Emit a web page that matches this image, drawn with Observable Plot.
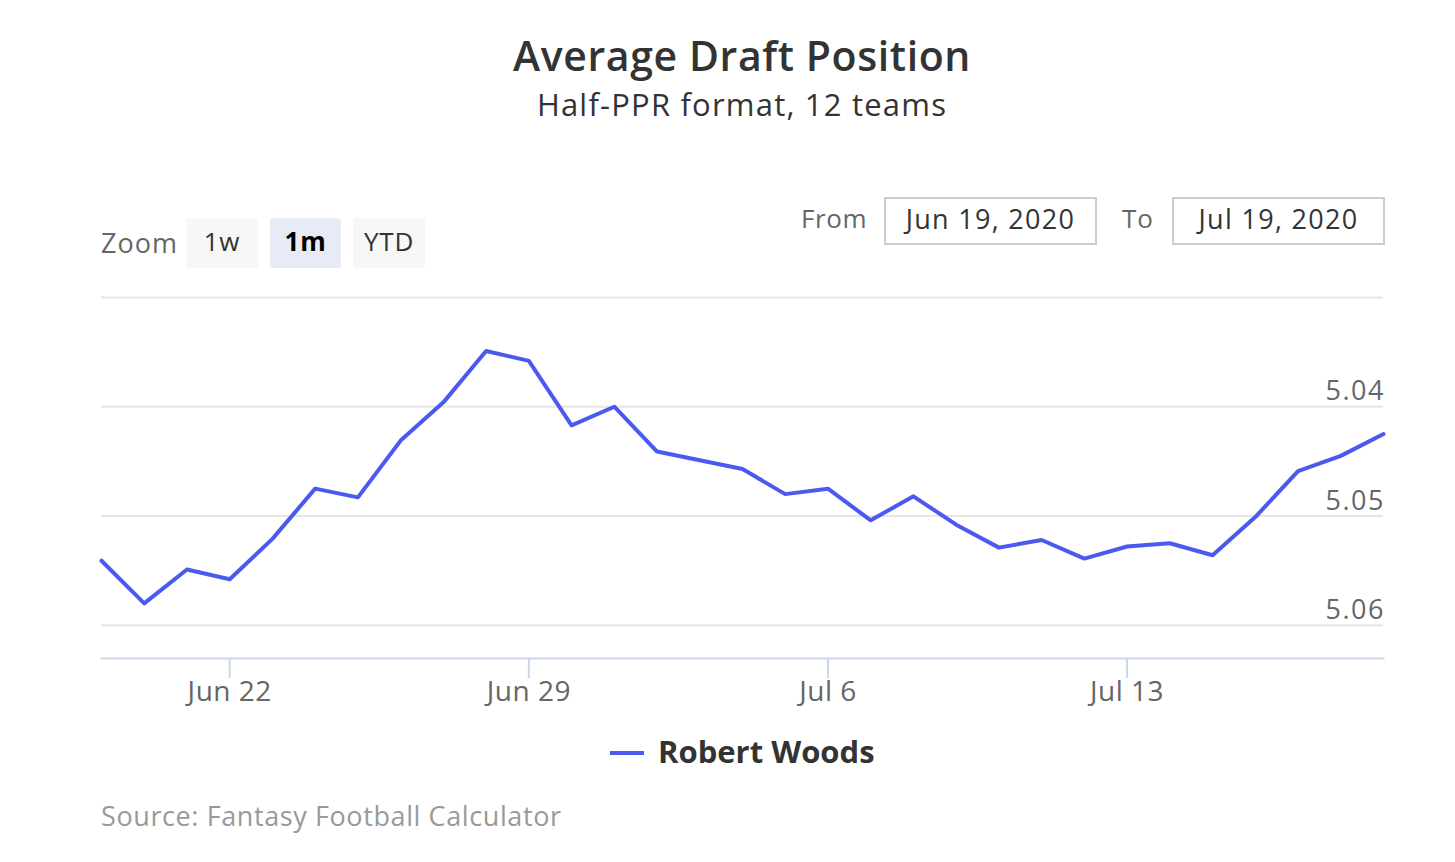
<!DOCTYPE html>
<html>
<head>
<meta charset="utf-8">
<script src="https://cdn.jsdelivr.net/npm/d3@7"></script>
<script src="https://cdn.jsdelivr.net/npm/@observablehq/plot@0.6"></script>
<style>
  html, body { margin: 0; padding: 0; background: #fff; }
  body { width: 1455px; height: 862px; position: relative; overflow: hidden; font-family: "Open Sans", sans-serif; }
  .abs { position: absolute; white-space: nowrap; line-height: 1; }
  .btn { position: absolute; height: 50px; border-radius: 3px; background: #f7f7f7; color: #333; font-size: 26px; letter-spacing: 0.8px; display: flex; align-items: center; justify-content: center; box-sizing: border-box; padding-bottom: 4px; }
  .inp { position: absolute; height: 44px; border: 2px solid #cccccc; color: #333; font-size: 27px; letter-spacing: 1.3px; display: flex; align-items: center; justify-content: center; box-sizing: content-box; padding-bottom: 0; }
  .inp span { position: relative; top: -3px; }
  #chart { position: absolute; left: 0; top: 280px; }
  #chart svg g[aria-label="x-axis tick label"] text { letter-spacing: 0.5px; }
  #chart svg g[aria-label="text"] text { letter-spacing: 1.5px; }
</style>
</head>
<body>
<div class="abs" id="title" style="left:0;width:1484px;text-align:center;top:35px;font-size:41px;font-weight:600;letter-spacing:0.6px;color:#333;">Average Draft Position</div>
<div class="abs" id="subtitle" style="left:0;width:1484px;text-align:center;top:89px;font-size:31px;letter-spacing:1.2px;color:#333;">Half-PPR format, 12 teams</div>

<div class="abs" style="left:101px;top:229px;font-size:27px;letter-spacing:1px;color:#666;">Zoom</div>
<div class="btn" style="left:186px;top:218px;width:72px;">1w</div>
<div class="btn" style="left:270px;top:218px;width:71px;background:#e6ebf5;color:#000;font-weight:700;">1m</div>
<div class="btn" style="left:353px;top:218px;width:72px;">YTD</div>

<div class="abs" style="left:801px;top:205px;font-size:26px;letter-spacing:0.6px;color:#666;">From</div>
<div class="inp" style="left:884px;top:197px;width:209px;"><span>Jun 19, 2020</span></div>
<div class="abs" style="left:1122px;top:205px;font-size:26px;letter-spacing:1px;color:#666;">To</div>
<div class="inp" style="left:1172px;top:197px;width:209px;"><span>Jul 19, 2020</span></div>

<div id="chart"></div>

<div class="abs" style="left:610px;top:751px;width:34px;height:4px;background:#4a5af0;"></div>
<div class="abs" style="left:658px;top:736px;font-size:31px;font-weight:700;color:#333;">Robert Woods</div>

<div class="abs" style="left:101px;top:802px;font-size:27px;letter-spacing:0.6px;color:#999;">Source: Fantasy Football Calculator</div>

<script>
// Data
const dates = [
  "2020-06-19","2020-06-20","2020-06-21","2020-06-22","2020-06-23","2020-06-24","2020-06-25",
  "2020-06-26","2020-06-27","2020-06-28","2020-06-29","2020-06-30","2020-07-01","2020-07-02",
  "2020-07-03","2020-07-04","2020-07-05","2020-07-06","2020-07-07","2020-07-08","2020-07-09",
  "2020-07-10","2020-07-11","2020-07-12","2020-07-13","2020-07-14","2020-07-15","2020-07-16",
  "2020-07-17","2020-07-18","2020-07-19"
];
const adp = [
  5.0541, 5.0580, 5.0549, 5.0558, 5.0521, 5.0475, 5.0483,
  5.0431, 5.0396, 5.0349, 5.0358, 5.0417, 5.0400, 5.0441,
  5.0449, 5.0457, 5.0480, 5.0475, 5.0504, 5.0482, 5.0508,
  5.0529, 5.0522, 5.0539, 5.0528, 5.0525, 5.0536, 5.0501,
  5.0459, 5.0445, 5.0425
];
const seriesName = "Robert Woods";
const xTickDates = ["2020-06-22","2020-06-29","2020-07-06","2020-07-13"];
const yGridTicks = [5.03, 5.04, 5.05, 5.06];
const yLabelTicks = [5.04, 5.05, 5.06];
const yDomain = [5.03, 5.06305];

const parse = d3.utcParse("%Y-%m-%d");
const data = dates.map((d, i) => ({date: parse(d), adp: adp[i], name: seriesName}));
const xTicks = xTickDates.map(parse);

const lineColor = "#4a5af0";

const plot = Plot.plot({
  width: 1455,
  height: 440,
  marginLeft: 101,
  marginRight: 72,
  marginTop: 17,
  marginBottom: 62,
  style: {fontFamily: "'Open Sans', sans-serif", background: "transparent", overflow: "visible"},
  x: {type: "utc", domain: [data[0].date, data[data.length - 1].date]},
  y: {domain: yDomain, reverse: true},
  marks: [
    Plot.gridY(yGridTicks, {stroke: "#e6e6e6", strokeOpacity: 1, strokeWidth: 2}),
    Plot.frame({anchor: "bottom", stroke: "#ccd6eb", strokeWidth: 2}),
    Plot.axisX(xTicks, {
      tickSize: 20, tickPadding: 3, stroke: "#ccd6eb", strokeWidth: 2, strokeOpacity: 1,
      fill: "#666", fontSize: 28, tickFormat: d3.utcFormat("%b %-d"), label: null
    }),
    Plot.axisY({ticks: [], label: null}),
    Plot.text(yLabelTicks, {
      y: d => d, text: d => d.toFixed(2), frameAnchor: "right", textAnchor: "end",
      dx: 1.5, dy: -15, fontSize: 27, fill: "#666"
    }),
    Plot.line(data, {x: "date", y: "adp", stroke: lineColor, strokeWidth: 4, strokeLinejoin: "round", strokeLinecap: "round"})
  ]
});
document.getElementById("chart").appendChild(plot);
</script>
</body>
</html>
